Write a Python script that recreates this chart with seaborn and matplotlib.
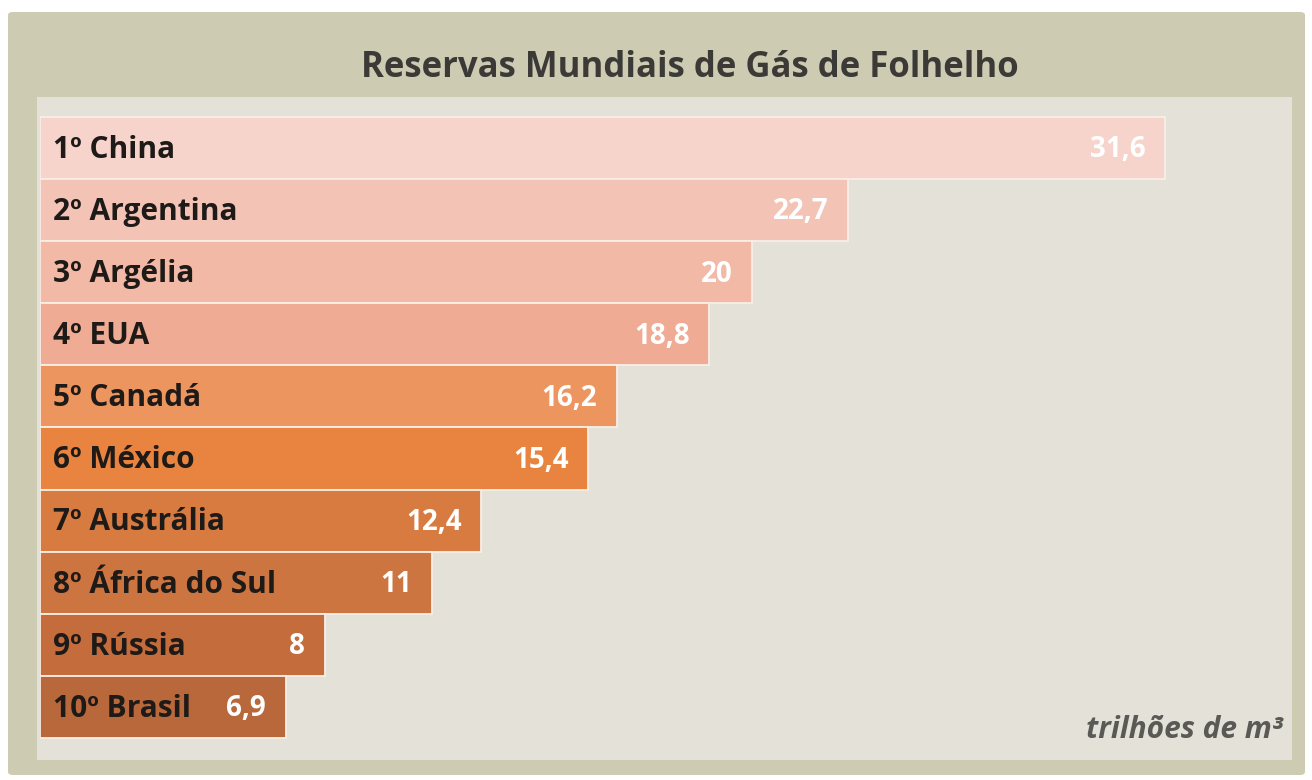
import pandas as pd
import matplotlib.pyplot as plt
import seaborn as sns
from matplotlib.patches import FancyBboxPatch, Rectangle

# Shale gas reserves, trillion m3
countries = ["1º China", "2º Argentina", "3º Argélia", "4º EUA", "5º Canadá",
             "6º México", "7º Austrália", "8º África do Sul", "9º Rússia", "10º Brasil"]
reserves = [31.6, 22.7, 20, 18.8, 16.2, 15.4, 12.4, 11, 8, 6.9]
value_labels = ["31,6", "22,7", "20", "18,8", "16,2", "15,4", "12,4", "11", "8", "6,9"]
bar_colors = ["#f6d4cb", "#f3c4b6", "#f1b9a6", "#efab94", "#ed955f",
              "#e8843f", "#d77b40", "#cd7540", "#c46c3b", "#b9683b"]

df = pd.DataFrame({"country": countries, "reserve": reserves})

sns.set_theme(style="white")
plt.rcParams["font.family"] = ["Open Sans", "DejaVu Sans"]

fig = plt.figure(figsize=(13.12, 7.8), dpi=100)
W, H = 1312, 780

# outer beige card and inner lighter panel
fig.patches.append(FancyBboxPatch((8 / W, 5 / H), 1297 / W, 763 / H,
                                  boxstyle="round,pad=0,rounding_size=0.004",
                                  transform=fig.transFigure, facecolor="#cecbb3",
                                  edgecolor="none", zorder=-2))
fig.patches.append(Rectangle((37 / W, 20 / H), 1255 / W, 663 / H,
                             transform=fig.transFigure, facecolor="#e3e1d8",
                             edgecolor="none", zorder=-1))

ax = fig.add_axes([40 / W, 20 / H, 1250 / W, 663 / H])
ax.set_facecolor("none")

sns.barplot(data=df, y="country", x="reserve", hue="country", palette=bar_colors,
            order=countries, orient="h", width=1.0, legend=False, saturation=1,
            edgecolor="#f8eee6", linewidth=1.3, ax=ax, zorder=2)

ax.set_xlim(0, 35.11)
ax.set_ylim(9.855, -0.82)
ax.set_xlabel("")
ax.set_ylabel("")
ax.set_xticks([])
ax.set_yticks([])
sns.despine(ax=ax, left=True, bottom=True)

for i, (name, val, lab) in enumerate(zip(countries, reserves, value_labels)):
    ax.text(0.36, i + 0.03, name, ha="left", va="center", fontsize=21.5,
            fontweight="bold", color="#1e1a18", zorder=3)
    ax.text(val - 0.55, i + 0.03, lab, ha="right", va="center", fontsize=20,
            fontweight="bold", color="white", zorder=3)

fig.text(690 / W, 1 - 68 / H, "Reservas Mundiais de Gás de Folhelho",
         ha="center", va="center", fontsize=25, fontweight="bold", color="#3b3a36")
fig.text(1283 / W, 1 - 730 / H, "trilhões de m³", ha="right", va="center",
         fontsize=21.5, fontweight="bold", fontstyle="italic", color="#5a5955")

fig.savefig("out.png", dpi=100, facecolor="white")
